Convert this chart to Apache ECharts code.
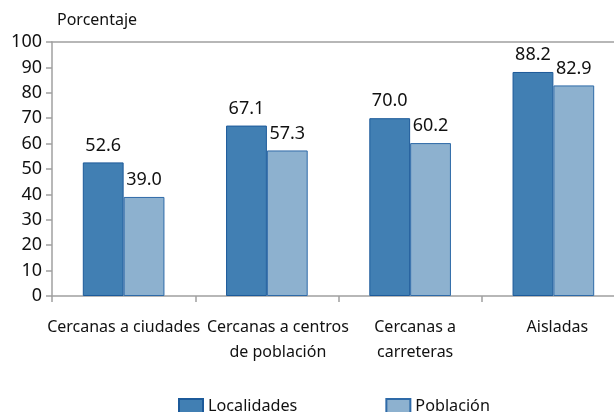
<!DOCTYPE html>
<html>
<head>
<meta charset="utf-8">
<script src="https://cdn.jsdelivr.net/npm/echarts@6/dist/echarts.min.js"></script>
<style>
  html, body { margin: 0; padding: 0; background: #fff; }
  #chart { width: 614px; height: 412px; }
</style>
</head>
<body>
<div id="chart"></div>
<script>
// data
var categories = ['Cercanas a ciudades', 'Cercanas a centros\nde población', 'Cercanas a\ncarreteras', 'Aisladas'];
var localidades = [52.6, 67.1, 70.0, 88.2];
var poblacion = [39.0, 57.3, 60.2, 82.9];

var myChart = echarts.init(document.getElementById('chart'));

var font = 'Noto Sans';

// the labels in the picture are not exactly centred under their groups
var labelShift = [0, 22, 10, 8];
var catData = categories.map(function (c, i) {
    return { value: c, textStyle: { padding: [0, 0, 0, labelShift[i]] } };
});

var option = {
    animation: false,
    textStyle: { fontFamily: font },
    grid: {
        left: 52,
        width: 573,
        top: 42,
        bottom: 116,
        outerBoundsMode: 'none',
        containLabel: false,
    },
    legend: {
        top: 393,
        left: 173,
        itemGap: 88,
        itemWidth: 24,
        itemHeight: 14,
        icon: 'rect',
        textStyle: { fontSize: 16.2, color: '#111', fontFamily: font },
        data: ['Localidades', 'Población'],
    },
    xAxis: [{
        type: 'category',
        data: catData,
        axisLine: { lineStyle: { color: '#a0a0a0', width: 1.5 } },
        axisTick: { show: true, length: 6, lineStyle: { color: '#a0a0a0', width: 1.5 } },
        axisLabel: {
            fontSize: 16,
            color: '#111',
            margin: 19,
            lineHeight: 25,
            interval: 0,
            hideOverlap: false,
        },
    }, {
        type: 'category',
        position: 'top',
        data: categories,
        axisLine: { show: true, lineStyle: { color: '#a0a0a0', width: 1.5 } },
        axisTick: { show: false },
        axisLabel: { show: false },
    }],
    yAxis: {
        type: 'value',
        name: 'Porcentaje',
        nameLocation: 'end',
        nameGap: 14,
        nameTextStyle: { fontSize: 16, color: '#111', align: 'left', padding: [0, 0, 0, 5] },
        min: 0,
        max: 100,
        interval: 10,
        splitLine: { show: false },
        axisLine: { show: true, lineStyle: { color: '#a0a0a0', width: 1.5 } },
        axisTick: { show: true, length: 6, lineStyle: { color: '#a0a0a0', width: 1.5 } },
        axisLabel: { fontSize: 18, color: '#111', margin: 10 },
    },
    series: [{
        name: 'Localidades',
        type: 'bar',
        data: localidades,
        barGap: '0%',
        barCategoryGap: '43%',
        itemStyle: { color: '#417fb3', borderColor: '#1c5a9a', borderWidth: 1 },
        label: {
            show: true,
            position: 'top',
            distance: 8,
            fontSize: 18,
            color: '#111',
            formatter: function (p) { return p.value.toFixed(1); },
        },
    }, {
        name: 'Población',
        type: 'bar',
        data: poblacion,
        itemStyle: { color: '#8db1cf', borderColor: '#2e6aa8', borderWidth: 1 },
        label: {
            show: true,
            position: 'top',
            distance: 8,
            fontSize: 18,
            color: '#111',
            formatter: function (p) { return p.value.toFixed(1); },
        },
    }],
};

myChart.setOption(option);
</script>
</body>
</html>
